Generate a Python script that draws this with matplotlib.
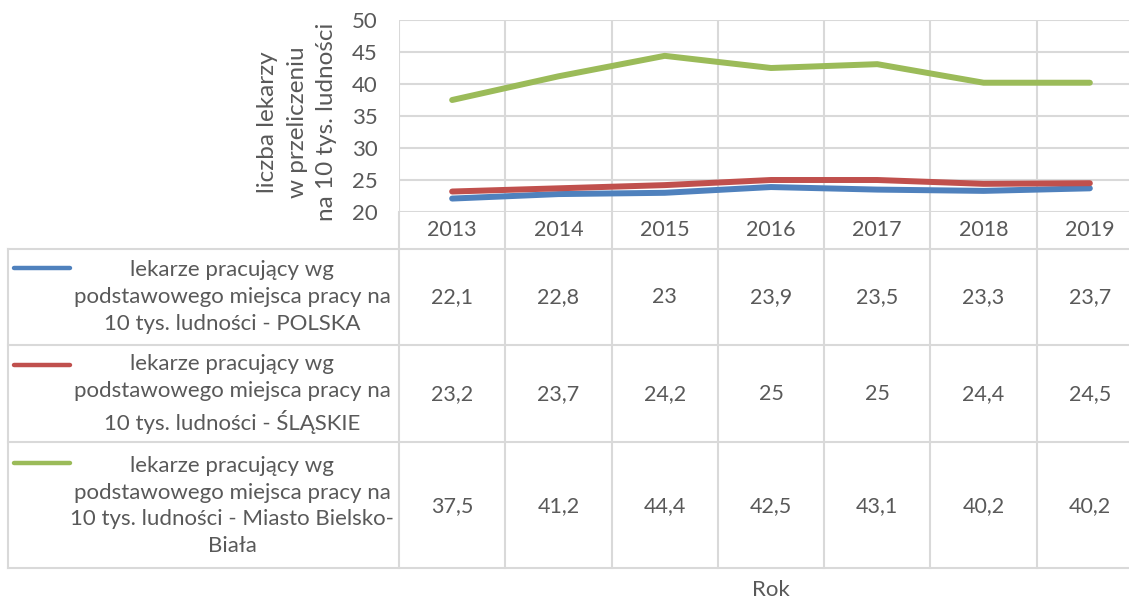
import numpy as np
import matplotlib
matplotlib.use("Agg")
import matplotlib.pyplot as plt

plt.rcParams['font.family'] = ['Lato', 'DejaVu Sans']

years = ["2013", "2014", "2015", "2016", "2017", "2018", "2019"]
polska = [22.1, 22.8, 23.0, 23.9, 23.5, 23.3, 23.7]
slaskie = [23.2, 23.7, 24.2, 25.0, 25.0, 24.4, 24.5]
bielsko = [37.5, 41.2, 44.4, 42.5, 43.1, 40.2, 40.2]
series_names = [
    "lekarze pracujący wg\npodstawowego miejsca pracy na\n10 tys. ludności - POLSKA",
    "lekarze pracujący wg\npodstawowego miejsca pracy na\n10 tys. ludności - ŚLĄSKIE",
    "lekarze pracujący wg\npodstawowego miejsca pracy na\n10 tys. ludności - Miasto Bielsko-\nBiała",
]
colors = ["#4f81bd", "#c0504d", "#9bbb59"]
ylabel = "liczba lekarzy\nw przeliczeniu\nna 10 tys. ludności"

txt = "#595959"
grid_c = "#d9d9d9"
fs_num = 15.5
fs_txt = 16

W, H = 1129, 598
fig = plt.figure(figsize=(W / 100, H / 100), dpi=100)

# plot area in pixels
pl, pr, pt, pb = 399, 1143, 20, 212
ax = fig.add_axes([pl / W, 1 - pb / H, (pr - pl) / W, (pb - pt) / H])
x = np.arange(len(years))
for vals, c in zip([polska, slaskie, bielsko], colors):
    ax.plot(x, vals, color=c, lw=4.3, solid_capstyle='round', zorder=3)
ax.set_xlim(-0.5, len(years) - 0.5)
ax.set_ylim(20, 50)
ax.set_yticks(np.arange(20, 51, 5))
ax.set_xticks(x)
ax.set_xticklabels([])
ax.set_xticks(np.arange(-0.5, len(years)), minor=True)
ax.tick_params(axis='both', which='both', length=0)
ax.tick_params(axis='y', labelsize=fs_txt, labelcolor=txt, pad=15.5)
ax.grid(True, axis='y', which='major', color=grid_c, lw=1.5)
ax.grid(True, axis='x', which='minor', color=grid_c, lw=1.5)
ax.grid(False, axis='x', which='major')
for s in ax.spines.values():
    s.set_visible(False)

fig.text(297 / W, 1 - 122 / H, ylabel, rotation=90, ha='center', va='center',
         ma='center', fontsize=17.5, color=txt, linespacing=1.5)

# data table below the plot
tl, tt, tb = 8, 212, 568
colw = (pr - pl) / len(years)
tax = fig.add_axes([tl / W, 1 - tb / H, (pr - tl) / W, (tb - tt) / H])
x0 = -0.5 - (pl - tl) / colw
tax.set_xlim(x0, len(years) - 0.5)
tax.set_ylim(tb - tt, 0)
tax.axis('off')

row_lines = [37, 133, 230, 356]
row_centers = [85, 182, 294]
for y in row_lines:
    tax.plot([x0, len(years) - 0.5], [y, y], color=grid_c, lw=1.5, clip_on=False)
tax.plot([x0, x0], [37, 356], color=grid_c, lw=1.5, clip_on=False)
for b in np.arange(-0.5, len(years)):
    tax.plot([b, b], [0, 356], color=grid_c, lw=1.5, clip_on=False)

for i, yr in enumerate(years):
    tax.text(i, 18, yr, ha='center', va='center', fontsize=fs_num, color=txt)

label_x = x0 + (232 - tl) / colw
for r, (vals, name, c) in enumerate(zip([polska, slaskie, bielsko], series_names, colors)):
    yc = row_centers[r]
    tax.text(label_x, yc, name, ha='center', va='center', ma='center',
             fontsize=fs_txt, color=txt, linespacing=1.42)
    nlines = name.count("\n") + 1
    ly = yc - (nlines - 1) / 2 * 29
    tax.plot([x0 + (14 - tl) / colw, x0 + (70 - tl) / colw], [ly, ly],
             color=c, lw=3.2, solid_capstyle='round')
    for i, v in enumerate(vals):
        s = ("%g" % v).replace(".", ",")
        tax.text(i, yc, s, ha='center', va='center', fontsize=fs_num, color=txt)

fig.text(((pl + pr) / 2) / W, 1 - 590 / H, "Rok", ha='center', va='center',
         fontsize=16, color=txt)

fig.savefig("out.png", dpi=100)
